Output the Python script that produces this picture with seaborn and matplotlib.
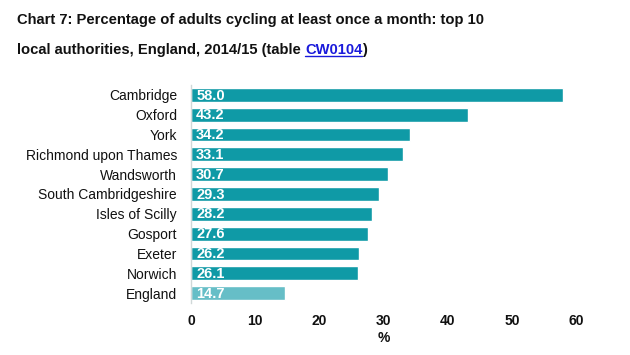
import matplotlib
matplotlib.use("Agg")
import matplotlib.pyplot as plt
import pandas as pd
import seaborn as sns

areas = ["Cambridge", "Oxford", "York", "Richmond upon Thames", "Wandsworth",
         "South Cambridgeshire", "Isles of Scilly", "Gosport", "Exeter", "Norwich", "England"]
pct = [58.0, 43.2, 34.2, 33.1, 30.7, 29.3, 28.2, 27.6, 26.2, 26.1, 14.7]
x_ticks = [0, 10, 20, 30, 40, 50, 60]

sns.set_theme(style="white")
plt.rcParams["font.family"] = ["Liberation Sans", "DejaVu Sans"]

df = pd.DataFrame({"area": areas, "pct": pct})
colors = ["#0f9aa6"] * (len(areas) - 1) + ["#66bec7"]

fig = plt.figure(figsize=(6.3, 3.55), dpi=100)
ax = fig.add_axes([191 / 630, 1 - 303 / 355, (576 - 191) / 630, (303 - 85) / 355])
sns.barplot(data=df, x="pct", y="area", hue="area", palette=colors, legend=False,
            width=0.7, saturation=1, ax=ax)

for i, v in enumerate(pct):
    ax.text(0.8, i + 0.03, f"{v:.1f}", color="white", fontweight="bold", fontsize=10.5,
            va="center", ha="left")

ax.set_xlim(0, 60)
ax.set_ylim(len(areas) - 0.5, -0.5)
ax.set_xticks(x_ticks)
ax.set_xticklabels([str(t) for t in x_ticks], fontweight="bold", fontsize=10, color="#111111")
ax.tick_params(axis="y", labelsize=10, labelcolor="#111111", length=0, pad=10)
ax.tick_params(axis="x", length=0, pad=8)
ax.set_ylabel("")
ax.set_xlabel("%", fontsize=10, fontweight="bold", color="#111111", labelpad=2)
for side in ["top", "right", "bottom"]:
    ax.spines[side].set_visible(False)
ax.spines["left"].set_color("#d0d8d8")
ax.spines["left"].set_linewidth(1)

fs = 10.6
fig.text(17 / 630, 1 - 20 / 355, "Chart 7: Percentage of adults cycling at least once a month: top 10",
         fontsize=fs, fontweight="bold", va="center", color="#111111")
line2 = fig.text(17 / 630, 1 - 50 / 355, "local authorities, England, 2014/15 (table ",
                 fontsize=fs, fontweight="bold", va="center", color="#111111")
fig.canvas.draw()
bb = line2.get_window_extent()
link = fig.text(bb.x1 / 630, 1 - 50 / 355, "CW0104", fontsize=fs, fontweight="bold",
                va="center", color="#1a1adb")
fig.canvas.draw()
bb2 = link.get_window_extent()
fig.add_artist(plt.Line2D([bb2.x0 / 630, bb2.x1 / 630], [(bb2.y0 + 1) / 355, (bb2.y0 + 1) / 355],
                          color="#1a1adb", lw=1.0))
fig.text(bb2.x1 / 630, 1 - 50 / 355, ")", fontsize=fs, fontweight="bold",
         va="center", color="#111111")

fig.savefig("out.png", dpi=100)
